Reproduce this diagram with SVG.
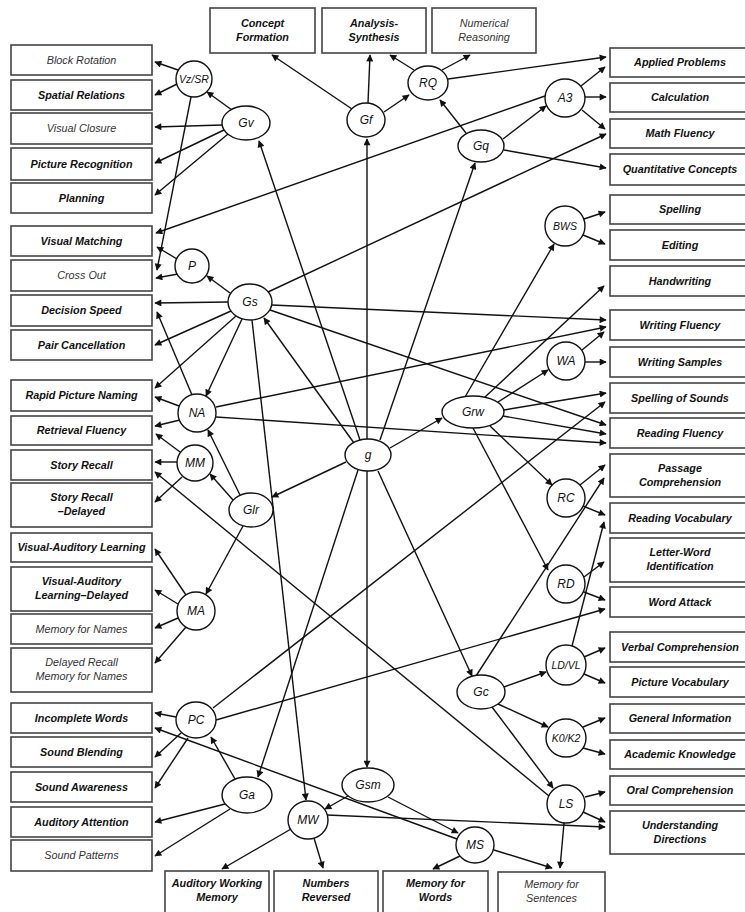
<svg xmlns="http://www.w3.org/2000/svg" width="745" height="912" viewBox="0 0 745 912">
<style>
.bx rect{fill:#fff;stroke:#444;stroke-width:1.6}
.bx text{font-family:"Liberation Sans",Arial,sans-serif;font-size:10.8px;font-style:italic;font-weight:bold;text-anchor:middle;fill:#111}
.bx text.r{font-weight:normal;fill:#333}
.nd ellipse{fill:#fff;stroke:#111;stroke-width:1.4}
.nd text{font-family:"Liberation Sans",Arial,sans-serif;font-size:12px;font-style:italic;text-anchor:middle;fill:#111}
.nd text.s{font-size:10.5px}
#connectors line{stroke:#111;stroke-width:1.4;marker-end:url(#ah)}
</style>
<defs>
<marker id="ah" viewBox="0 0 10 10" refX="9" refY="5" markerWidth="10" markerHeight="7" markerUnits="userSpaceOnUse" orient="auto"><path d="M0,0 L10,5 L0,10 z" fill="#111"/></marker>
</defs>
<rect width="745" height="912" fill="#fff"/>

<g id="connectors">
<line x1="178" y1="70" x2="155" y2="62"/>
<line x1="177" y1="84" x2="155" y2="95"/>
<line x1="232" y1="110" x2="207" y2="92"/>
<line x1="222" y1="125" x2="155" y2="127"/>
<line x1="224" y1="130" x2="155" y2="163"/>
<line x1="228" y1="134" x2="155" y2="195"/>
<line x1="191" y1="97" x2="157" y2="270"/>
<line x1="545" y1="96" x2="156" y2="233"/>
<line x1="177" y1="259" x2="157" y2="247"/>
<line x1="178" y1="274" x2="156" y2="278"/>
<line x1="230" y1="293" x2="207" y2="276"/>
<line x1="228" y1="302" x2="155" y2="303"/>
<line x1="231" y1="311" x2="155" y2="345"/>
<line x1="236" y1="316" x2="155" y2="388"/>
<line x1="242" y1="319" x2="206" y2="396"/>
<line x1="192" y1="395" x2="157" y2="312"/>
<line x1="179" y1="406" x2="155" y2="397"/>
<line x1="180" y1="420" x2="155" y2="426"/>
<line x1="216" y1="407" x2="606" y2="327"/>
<line x1="216" y1="417" x2="606" y2="443"/>
<line x1="240" y1="495" x2="208" y2="430"/>
<line x1="233" y1="500" x2="210" y2="474"/>
<line x1="180" y1="452" x2="156" y2="434"/>
<line x1="177" y1="462" x2="155" y2="462"/>
<line x1="182" y1="477" x2="155" y2="502"/>
<line x1="549" y1="796" x2="155" y2="472"/>
<line x1="243" y1="526" x2="206" y2="594"/>
<line x1="186" y1="595" x2="155" y2="549"/>
<line x1="178" y1="604" x2="155" y2="590"/>
<line x1="178" y1="618" x2="155" y2="628"/>
<line x1="186" y1="627" x2="155" y2="663"/>
<line x1="360" y1="440" x2="259" y2="141"/>
<line x1="367" y1="439" x2="367" y2="139"/>
<line x1="380" y1="440" x2="475" y2="163"/>
<line x1="354" y1="443" x2="264" y2="318"/>
<line x1="390" y1="448" x2="442" y2="418"/>
<line x1="346" y1="462" x2="272" y2="497"/>
<line x1="378" y1="471" x2="472" y2="676"/>
<line x1="358" y1="470" x2="258" y2="777"/>
<line x1="367" y1="471" x2="367" y2="767"/>
<line x1="252" y1="320" x2="306" y2="800"/>
<line x1="272" y1="305" x2="606" y2="320"/>
<line x1="270" y1="310" x2="606" y2="425"/>
<line x1="268" y1="292" x2="606" y2="134"/>
<line x1="352" y1="109" x2="272" y2="55"/>
<line x1="368" y1="103" x2="370" y2="55"/>
<line x1="384" y1="112" x2="409" y2="95"/>
<line x1="414" y1="70" x2="390" y2="55"/>
<line x1="442" y1="70" x2="470" y2="55"/>
<line x1="448" y1="79" x2="606" y2="57"/>
<line x1="466" y1="133" x2="440" y2="100"/>
<line x1="503" y1="139" x2="546" y2="106"/>
<line x1="504" y1="150" x2="606" y2="168"/>
<line x1="581" y1="86" x2="605" y2="67"/>
<line x1="585" y1="97" x2="606" y2="97"/>
<line x1="582" y1="110" x2="605" y2="129"/>
<line x1="465" y1="397" x2="554" y2="244"/>
<line x1="584" y1="219" x2="605" y2="212"/>
<line x1="583" y1="235" x2="605" y2="244"/>
<line x1="485" y1="397" x2="604" y2="286"/>
<line x1="498" y1="402" x2="548" y2="370"/>
<line x1="582" y1="350" x2="604" y2="332"/>
<line x1="585" y1="362" x2="606" y2="362"/>
<line x1="504" y1="410" x2="606" y2="393"/>
<line x1="503" y1="416" x2="606" y2="434"/>
<line x1="490" y1="426" x2="552" y2="485"/>
<line x1="473" y1="428" x2="548" y2="570"/>
<line x1="580" y1="485" x2="605" y2="465"/>
<line x1="583" y1="506" x2="605" y2="515"/>
<line x1="476" y1="676" x2="604" y2="478"/>
<line x1="584" y1="577" x2="604" y2="562"/>
<line x1="584" y1="592" x2="605" y2="600"/>
<line x1="216" y1="720" x2="605" y2="609"/>
<line x1="213" y1="708" x2="605" y2="402"/>
<line x1="572" y1="646" x2="604" y2="522"/>
<line x1="584" y1="657" x2="605" y2="648"/>
<line x1="584" y1="674" x2="605" y2="683"/>
<line x1="504" y1="687" x2="546" y2="672"/>
<line x1="498" y1="704" x2="548" y2="727"/>
<line x1="492" y1="707" x2="553" y2="788"/>
<line x1="583" y1="727" x2="605" y2="718"/>
<line x1="583" y1="748" x2="605" y2="754"/>
<line x1="585" y1="797" x2="605" y2="792"/>
<line x1="583" y1="812" x2="605" y2="822"/>
<line x1="564" y1="823" x2="560" y2="868"/>
<line x1="494" y1="850" x2="552" y2="868"/>
<line x1="460" y1="856" x2="433" y2="869"/>
<line x1="457" y1="839" x2="155" y2="728"/>
<line x1="388" y1="797" x2="458" y2="833"/>
<line x1="348" y1="796" x2="325" y2="809"/>
<line x1="291" y1="829" x2="222" y2="869"/>
<line x1="314" y1="838" x2="323" y2="868"/>
<line x1="327" y1="815" x2="605" y2="827"/>
<line x1="235" y1="779" x2="211" y2="737"/>
<line x1="225" y1="804" x2="155" y2="822"/>
<line x1="230" y1="809" x2="155" y2="856"/>
<line x1="176" y1="717" x2="155" y2="713"/>
<line x1="181" y1="733" x2="155" y2="757"/>
<line x1="188" y1="738" x2="155" y2="788"/>
</g>

<g id="b-block-rotation" class="bx"><rect x="11" y="45" width="141" height="30"/><text class="r" x="81.5" y="63.8">Block Rotation</text></g>
<g id="b-spatial-relations" class="bx"><rect x="11" y="80" width="141" height="30"/><text x="81.5" y="98.8">Spatial Relations</text></g>
<g id="b-visual-closure" class="bx"><rect x="11" y="113" width="141" height="31"/><text class="r" x="81.5" y="132.3">Visual Closure</text></g>
<g id="b-picture-recognition" class="bx"><rect x="11" y="148" width="141" height="32"/><text x="81.5" y="167.8">Picture Recognition</text></g>
<g id="b-planning" class="bx"><rect x="11" y="183" width="141" height="30"/><text x="81.5" y="201.8">Planning</text></g>
<g id="b-visual-matching" class="bx"><rect x="11" y="226" width="141" height="30"/><text x="81.5" y="244.8">Visual Matching</text></g>
<g id="b-cross-out" class="bx"><rect x="11" y="260" width="141" height="31"/><text class="r" x="81.5" y="279.3">Cross Out</text></g>
<g id="b-decision-speed" class="bx"><rect x="11" y="295" width="141" height="31"/><text x="81.5" y="314.3">Decision Speed</text></g>
<g id="b-pair-cancellation" class="bx"><rect x="11" y="330" width="141" height="30"/><text x="81.5" y="348.8">Pair Cancellation</text></g>
<g id="b-rapid-picture-naming" class="bx"><rect x="11" y="380" width="141" height="31"/><text x="81.5" y="399.3">Rapid Picture Naming</text></g>
<g id="b-retrieval-fluency" class="bx"><rect x="11" y="416" width="141" height="29"/><text x="81.5" y="434.3">Retrieval Fluency</text></g>
<g id="b-story-recall" class="bx"><rect x="11" y="450" width="141" height="30"/><text x="81.5" y="468.8">Story Recall</text></g>
<g id="b-story-recall-delayed" class="bx"><rect x="11" y="483" width="141" height="44"/><text x="81.5" y="501">Story Recall</text><text x="81.5" y="514.5">–Delayed</text></g>
<g id="b-val" class="bx"><rect x="11" y="533" width="141" height="29"/><text x="81.5" y="551.3">Visual-Auditory Learning</text></g>
<g id="b-val-delayed" class="bx"><rect x="11" y="567" width="141" height="44"/><text x="81.5" y="585">Visual-Auditory</text><text x="81.5" y="598.5">Learning–Delayed</text></g>
<g id="b-memory-for-names" class="bx"><rect x="11" y="614" width="141" height="30"/><text class="r" x="81.5" y="632.8">Memory for Names</text></g>
<g id="b-delayed-recall" class="bx"><rect x="11" y="648" width="141" height="44"/><text class="r" x="81.5" y="666">Delayed Recall</text><text class="r" x="81.5" y="679.5">Memory for Names</text></g>
<g id="b-incomplete-words" class="bx"><rect x="11" y="703" width="141" height="30"/><text x="81.5" y="721.8">Incomplete Words</text></g>
<g id="b-sound-blending" class="bx"><rect x="11" y="737" width="141" height="30"/><text x="81.5" y="755.8">Sound Blending</text></g>
<g id="b-sound-awareness" class="bx"><rect x="11" y="772" width="141" height="30"/><text x="81.5" y="790.8">Sound Awareness</text></g>
<g id="b-auditory-attention" class="bx"><rect x="11" y="807" width="141" height="30"/><text x="81.5" y="825.8">Auditory Attention</text></g>
<g id="b-sound-patterns" class="bx"><rect x="11" y="840" width="141" height="31"/><text class="r" x="81.5" y="859.3">Sound Patterns</text></g>

<g id="b-concept-formation" class="bx"><rect x="210" y="8" width="105" height="45"/><text x="262.5" y="27">Concept</text><text x="262.5" y="40.5">Formation</text></g>
<g id="b-analysis-synthesis" class="bx"><rect x="322" y="8" width="104" height="45"/><text x="374" y="27">Analysis-</text><text x="374" y="40.5">Synthesis</text></g>
<g id="b-numerical-reasoning" class="bx"><rect x="432" y="8" width="104" height="45"/><text class="r" x="484" y="27">Numerical</text><text class="r" x="484" y="40.5">Reasoning</text></g>

<g id="b-awm" class="bx"><rect x="165" y="871" width="104" height="46"/><text x="217" y="887">Auditory Working</text><text x="217" y="900.5">Memory</text></g>
<g id="b-numbers-reversed" class="bx"><rect x="274" y="871" width="104" height="46"/><text x="326" y="887">Numbers</text><text x="326" y="900.5">Reversed</text></g>
<g id="b-memory-for-words" class="bx"><rect x="383" y="871" width="105" height="46"/><text x="435.5" y="887">Memory for</text><text x="435.5" y="900.5">Words</text></g>
<g id="b-memory-for-sentences" class="bx"><rect x="498" y="872" width="107" height="46"/><text class="r" x="551.5" y="888">Memory for</text><text class="r" x="551.5" y="901.5">Sentences</text></g>

<g id="b-applied-problems" class="bx"><rect x="610" y="48" width="140" height="29"/><text x="680" y="66.3">Applied Problems</text></g>
<g id="b-calculation" class="bx"><rect x="610" y="83" width="140" height="29"/><text x="680" y="101.3">Calculation</text></g>
<g id="b-math-fluency" class="bx"><rect x="610" y="119" width="140" height="29"/><text x="680" y="137.3">Math Fluency</text></g>
<g id="b-quantitative-concepts" class="bx"><rect x="610" y="154" width="140" height="31"/><text x="680" y="173.3">Quantitative Concepts</text></g>
<g id="b-spelling" class="bx"><rect x="610" y="195" width="140" height="29"/><text x="680" y="213.3">Spelling</text></g>
<g id="b-editing" class="bx"><rect x="610" y="230" width="140" height="30"/><text x="680" y="248.8">Editing</text></g>
<g id="b-handwriting" class="bx"><rect x="610" y="266" width="140" height="30"/><text x="680" y="284.8">Handwriting</text></g>
<g id="b-writing-fluency" class="bx"><rect x="610" y="310" width="140" height="30"/><text x="680" y="328.8">Writing Fluency</text></g>
<g id="b-writing-samples" class="bx"><rect x="610" y="347" width="140" height="30"/><text x="680" y="365.8">Writing Samples</text></g>
<g id="b-spelling-of-sounds" class="bx"><rect x="610" y="383" width="140" height="30"/><text x="680" y="401.8">Spelling of Sounds</text></g>
<g id="b-reading-fluency" class="bx"><rect x="610" y="418" width="140" height="30"/><text x="680" y="436.8">Reading Fluency</text></g>
<g id="b-passage-comprehension" class="bx"><rect x="610" y="454" width="140" height="43"/><text x="680" y="472">Passage</text><text x="680" y="485.5">Comprehension</text></g>
<g id="b-reading-vocabulary" class="bx"><rect x="610" y="503" width="140" height="30"/><text x="680" y="521.8">Reading Vocabulary</text></g>
<g id="b-letter-word" class="bx"><rect x="610" y="538" width="140" height="44"/><text x="680" y="556">Letter-Word</text><text x="680" y="569.5">Identification</text></g>
<g id="b-word-attack" class="bx"><rect x="610" y="587" width="140" height="30"/><text x="680" y="605.8">Word Attack</text></g>
<g id="b-verbal-comprehension" class="bx"><rect x="610" y="632" width="140" height="30"/><text x="680" y="650.8">Verbal Comprehension</text></g>
<g id="b-picture-vocabulary" class="bx"><rect x="610" y="667" width="140" height="30"/><text x="680" y="685.8">Picture Vocabulary</text></g>
<g id="b-general-information" class="bx"><rect x="610" y="704" width="140" height="29"/><text x="680" y="722.3">General Information</text></g>
<g id="b-academic-knowledge" class="bx"><rect x="610" y="740" width="140" height="29"/><text x="680" y="758.3">Academic Knowledge</text></g>
<g id="b-oral-comprehension" class="bx"><rect x="610" y="776" width="140" height="29"/><text x="680" y="794.3">Oral Comprehension</text></g>
<g id="b-understanding-directions" class="bx"><rect x="610" y="811" width="140" height="43"/><text x="680" y="829">Understanding</text><text x="680" y="842.5">Directions</text></g>

<g id="n-vzsr" class="nd"><ellipse cx="194" cy="79" rx="18" ry="18"/><text class="s" x="194" y="83">Vz/SR</text></g>
<g id="n-gv" class="nd"><ellipse cx="246" cy="123" rx="24" ry="17"/><text x="246" y="127">Gv</text></g>
<g id="n-gf" class="nd"><ellipse cx="366" cy="120" rx="19" ry="17"/><text x="366" y="124">Gf</text></g>
<g id="n-rq" class="nd"><ellipse cx="428" cy="83" rx="20" ry="17"/><text x="428" y="87">RQ</text></g>
<g id="n-gq" class="nd"><ellipse cx="481" cy="146" rx="23" ry="16"/><text x="481" y="150">Gq</text></g>
<g id="n-a3" class="nd"><ellipse cx="565" cy="98" rx="20" ry="19"/><text x="565" y="102">A3</text></g>
<g id="n-bws" class="nd"><ellipse cx="565" cy="226" rx="20" ry="20"/><text class="s" x="565" y="230">BWS</text></g>
<g id="n-p" class="nd"><ellipse cx="192" cy="266" rx="17" ry="17"/><text x="192" y="270">P</text></g>
<g id="n-gs" class="nd"><ellipse cx="250" cy="302" rx="22" ry="18"/><text x="250" y="306">Gs</text></g>
<g id="n-na" class="nd"><ellipse cx="197" cy="413" rx="19" ry="19"/><text x="197" y="417">NA</text></g>
<g id="n-mm" class="nd"><ellipse cx="195" cy="463" rx="18" ry="18"/><text x="195" y="467">MM</text></g>
<g id="n-glr" class="nd"><ellipse cx="251" cy="510" rx="22" ry="17"/><text x="251" y="514">Glr</text></g>
<g id="n-ma" class="nd"><ellipse cx="196" cy="611" rx="19" ry="19"/><text x="196" y="615">MA</text></g>
<g id="n-g" class="nd"><ellipse cx="368" cy="455" rx="23" ry="16"/><text x="368" y="459">g</text></g>
<g id="n-grw" class="nd"><ellipse cx="473" cy="412" rx="31" ry="16"/><text x="473" y="416">Grw</text></g>
<g id="n-wa" class="nd"><ellipse cx="566" cy="361" rx="19" ry="19"/><text x="566" y="365">WA</text></g>
<g id="n-rc" class="nd"><ellipse cx="566" cy="498" rx="19" ry="19"/><text x="566" y="502">RC</text></g>
<g id="n-rd" class="nd"><ellipse cx="566" cy="584" rx="19" ry="19"/><text x="566" y="588">RD</text></g>
<g id="n-ldvl" class="nd"><ellipse cx="566" cy="665" rx="20" ry="20"/><text class="s" x="566" y="669">LD/VL</text></g>
<g id="n-gc" class="nd"><ellipse cx="481" cy="692" rx="24" ry="17"/><text x="481" y="696">Gc</text></g>
<g id="n-k0k2" class="nd"><ellipse cx="566" cy="738" rx="20" ry="19"/><text class="s" x="566" y="742">K0/K2</text></g>
<g id="n-ls" class="nd"><ellipse cx="566" cy="804" rx="19" ry="19"/><text x="566" y="808">LS</text></g>
<g id="n-ms" class="nd"><ellipse cx="475" cy="845" rx="19" ry="18"/><text x="475" y="849">MS</text></g>
<g id="n-gsm" class="nd"><ellipse cx="368" cy="785" rx="26" ry="17"/><text x="368" y="789">Gsm</text></g>
<g id="n-mw" class="nd"><ellipse cx="308" cy="820" rx="20" ry="19"/><text x="308" y="824">MW</text></g>
<g id="n-ga" class="nd"><ellipse cx="247" cy="795" rx="25" ry="18"/><text x="247" y="799">Ga</text></g>
<g id="n-pc" class="nd"><ellipse cx="196" cy="720" rx="20" ry="18"/><text x="196" y="724">PC</text></g>
</svg>
